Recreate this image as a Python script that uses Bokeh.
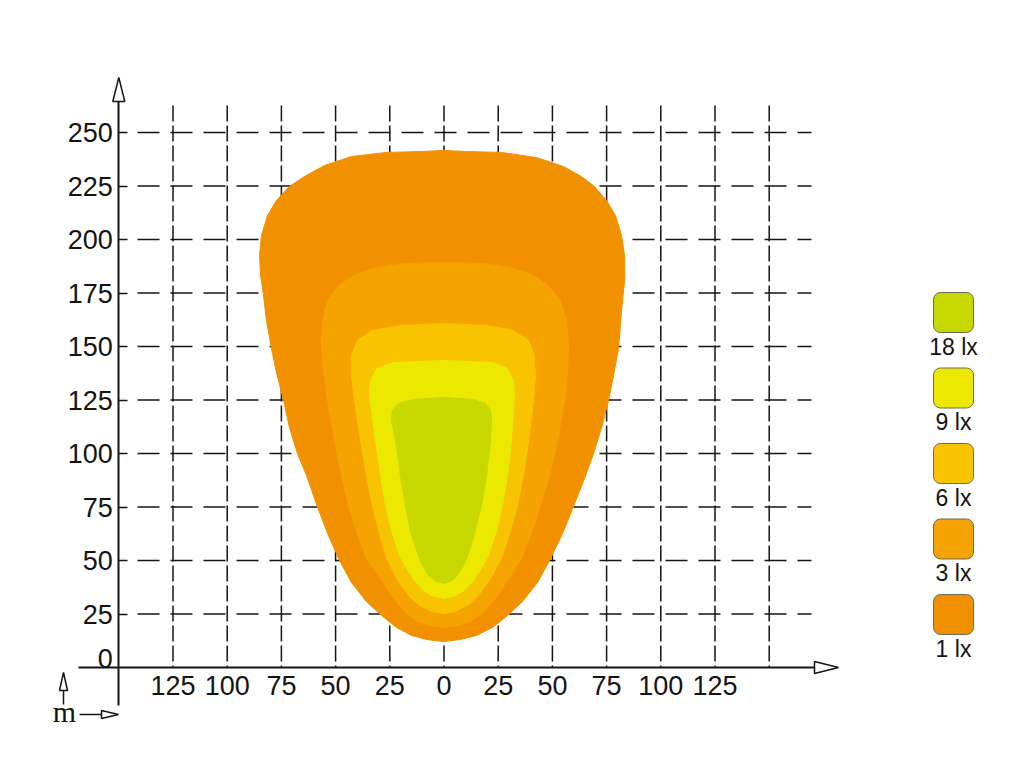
from bokeh.plotting import figure
from bokeh.models import LinearAxis, FixedTicker
from bokeh.core.properties import value
from bokeh.embed import file_html
from bokeh.resources import INLINE

# ---------------- data ----------------
levels = ["18 lx", "9 lx", "6 lx", "3 lx", "1 lx"]
level_colors = ["#c6d800", "#ece800", "#f8c300", "#f5a300", "#f29100"]

# isolux contours (x: lateral m, y: distance m)
x_1lx = [-0.2, -8.1, -15.0, -21.9, -28.8, -35.8, -42.7, -48.2, -53.7, -58.4, -63.4, -67.6, -71.3, -74.0,
         -77.3, -79.6, -81.9, -83.3, -84.6, -85.1, -84.2, -81.4, -77.3, -71.3, -64.4, -55.1, -42.7, -26.5,
         -10.4, -0.2, 10.4, 26.5, 42.7, 55.1, 63.4, 69.4, 75.0, 79.1, 81.9, 83.3, 83.3, 81.9, 80.5, 78.2,
         75.9, 72.7, 69.0, 64.8, 59.7, 54.7, 48.7, 43.1, 36.2, 29.3, 22.4, 15.0, 7.6]
y_1lx = [12.1, 13.1, 15.0, 18.7, 24.3, 30.8, 39.7, 50.0, 62.6, 75.2, 89.7, 100.0, 112.2, 124.8,
         137.9, 149.1, 162.2, 174.3, 183.2, 192.5, 201.9, 211.2, 218.2, 224.8, 229.4, 234.6, 238.8, 240.7,
         241.1, 241.6, 241.1, 240.7, 238.3, 234.1, 229.4, 224.8, 218.2, 211.2, 201.9, 192.5, 180.8, 166.8, 149.1, 136.5,
         124.8, 112.2, 100.0, 88.3, 75.2, 62.6, 50.0, 39.7, 30.8, 24.3, 18.7, 15.0, 13.1]

x_3lx = [-0.2, -6.7, -12.7, -17.3, -23.3, -28.8, -35.8, -40.4, -44.1, -47.3, -50.5, -53.7, -55.6, -56.5,
         -56.0, -53.7, -49.1, -41.7, -31.1, -17.3, -0.2, 17.3, 31.1, 41.3, 48.7, 53.7, 56.5, 57.4, 57.0,
         55.6, 52.4, 48.7, 44.5, 40.8, 35.8, 29.3, 23.8, 17.8, 12.7, 6.7]
y_3lx = [18.7, 19.6, 22.0, 25.2, 32.2, 40.7, 50.9, 64.0, 75.7, 89.7, 106.1, 124.8, 138.8, 150.5,
         162.2, 171.5, 178.0, 183.2, 186.9, 188.8, 189.3, 188.8, 186.9, 183.2, 178.0, 171.5, 162.2, 150.5, 138.8,
         124.8, 106.1, 89.7, 75.7, 64.0, 50.9, 40.7, 32.2, 25.2, 22.0, 19.6]

x_6lx = [-0.2, -5.8, -11.3, -16.4, -21.9, -26.5, -30.2, -33.0, -35.8, -38.5, -41.3, -42.7, -42.7, -39.9,
         -33.4, -19.6, -0.2, 19.6, 32.1, 39.0, 41.7, 42.2, 41.3, 39.0, 36.7, 33.9, 30.7, 26.5, 21.5, 15.9,
         10.8, 5.3]
y_6lx = [25.2, 26.2, 29.0, 33.6, 41.6, 50.9, 64.0, 75.7, 89.7, 106.1, 124.8, 136.5, 145.8, 152.8,
         157.5, 159.8, 160.8, 159.8, 157.5, 152.8, 145.8, 136.5, 124.8, 106.1, 89.7, 75.7, 64.0, 50.9, 41.6, 33.6,
         29.0, 26.2]

x_9lx = [-0.2, -4.8, -9.5, -13.6, -17.3, -20.5, -24.2, -27.0, -29.3, -31.6, -33.4, -34.4, -33.9, -31.1,
         -23.3, -0.2, 22.8, 29.3, 32.1, 32.5, 32.1, 31.1, 29.3, 27.0, 24.2, 20.5, 17.3, 13.6, 9.5, 4.4]
y_9lx = [32.2, 33.2, 36.0, 40.7, 46.3, 52.3, 64.0, 75.7, 89.7, 106.1, 120.1, 127.1, 134.1, 139.7,
         142.5, 143.5, 142.5, 139.7, 134.1, 127.1, 120.1, 106.1, 89.7, 75.7, 64.0, 52.3, 46.3, 40.7, 36.0, 33.2]

x_18lx = [-0.2, -3.9, -7.2, -9.9, -12.7, -15.5, -17.8, -20.1, -22.4, -24.2, -23.8, -21.0, -14.1, -0.2,
          13.6, 19.1, 21.5, 21.9, 21.5, 19.6, 17.3, 14.5, 11.8, 9.0, 6.2, 3.0]
y_18lx = [39.3, 40.2, 43.0, 47.7, 54.7, 64.0, 75.7, 89.7, 106.1, 115.4, 120.1, 123.4, 125.2, 126.2,
          125.2, 123.4, 120.1, 115.4, 106.1, 89.7, 75.7, 64.0, 54.7, 47.7, 43.0, 40.2]

x_ticks = [-125, -100, -75, -50, -25, 0, 25, 50, 75, 100, 125]
x_grid = [-125, -100, -75, -50, -25, 0, 25, 50, 75, 100, 125, 150]
y_ticks = [25, 50, 75, 100, 125, 150, 175, 200, 225, 250]
y_grid = [25, 50, 75, 100, 125, 150, 175, 200, 225, 250]
unit_label = "m"

# ---------------- layout ----------------
W, H = 1000, 750
PX0, SX = 443.5, 2.168   # px of x=0, px per metre
PY0, SY = 667.0, 2.14    # px of y=0, px per metre
FONT = "Liberation Sans"
INK = "#141414"


def dx(px):
    return px / SX


def dy(px):
    return px / SY


def fx(px):
    return (px - PX0) / SX


def fy(py):
    return (PY0 - py) / SY


p = figure(width=W, height=H, x_range=(fx(0), fx(W)), y_range=(fy(H), fy(0)),
           x_axis_type=None, y_axis_type=None, toolbar_location=None,
           output_backend="svg", min_border=0, outline_line_color=None)

y_axis_x = -150
x_axis_start, x_axis_end = fx(78), fx(814)
y_axis_start, y_axis_end = fy(705), fy(101)
grid_top = fy(105)
grid_left, grid_right = fx(137), fx(811)

# grid
p.segment(x0=x_grid, y0=[grid_top] * len(x_grid), x1=x_grid, y1=[0] * len(x_grid),
          line_color=INK, line_width=1.5, line_dash="16 4")
p.segment(x0=[grid_left] * len(y_grid), y0=y_grid, x1=[grid_right] * len(y_grid), y1=y_grid,
          line_color=INK, line_width=1.5, line_dash="22 11")

# contours, outer to inner
xs = [x_1lx, x_3lx, x_6lx, x_9lx, x_18lx]
ys = [y_1lx, y_3lx, y_6lx, y_9lx, y_18lx]
p.patches(xs=xs, ys=ys, fill_color=level_colors[::-1], line_color=level_colors[::-1],
          line_width=1, line_join="round")

# axes
xaxis = LinearAxis(fixed_location=0, ticker=FixedTicker(ticks=x_ticks),
                   major_label_overrides={t: str(abs(t)) for t in x_ticks},
                   bounds=(x_axis_start, x_axis_end))
yaxis = LinearAxis(fixed_location=y_axis_x, ticker=FixedTicker(ticks=y_ticks),
                   bounds=(y_axis_start, y_axis_end))
for ax in (xaxis, yaxis):
    ax.axis_line_width = 2
    ax.axis_line_color = INK
    ax.major_tick_out = 0
    ax.minor_tick_line_color = None
    ax.major_tick_line_color = INK
    ax.major_tick_line_width = 1.5
    ax.major_label_text_font = FONT
    ax.major_label_text_font_size = "27px"
    ax.major_label_text_color = INK
xaxis.major_tick_in = 0
xaxis.major_label_standoff = 8
yaxis.major_tick_in = 9
yaxis.major_label_standoff = 6
p.add_layout(xaxis, "below")
p.add_layout(yaxis, "left")

# y "0" label sits above the x axis
p.text(x=[y_axis_x], y=[0], text=["0"], text_align="right", text_baseline="middle",
       x_offset=-6, y_offset=-9, text_font=value(FONT), text_font_size="27px", text_color=INK)


def head(tip_x, tip_y, ux, uy, length, half):
    # ux, uy: unit direction in screen px space (x right, y up)
    bx, by = tip_x - dx(length) * ux, tip_y - dy(length) * uy
    px_, py_ = -uy, ux
    return ([tip_x, bx + dx(half) * px_, bx - dx(half) * px_],
            [tip_y, by + dy(half) * py_, by - dy(half) * py_])


ax_head = head(x_axis_end + dx(24), 0, 1, 0, 24, 6)
ay_head = head(y_axis_x, y_axis_end + dy(24), 0, 1, 24, 6)

# unit marker arrows near "m"
m_x, m_mid = fx(64), fy(711)
up_x = fx(63)
up_shaft = (fy(704), fy(690))
up_tip = fy(672)
rt_y = fy(714)
rt_shaft = (fx(79), fx(101))
rt_tip = fx(118)
p.segment(x0=[up_x, rt_shaft[0]], y0=[up_shaft[0], rt_y], x1=[up_x, rt_shaft[1]], y1=[up_shaft[1], rt_y],
          line_color=INK, line_width=1.5)
up_head = head(up_x, up_tip, 0, 1, 18, 4)
rt_head = head(rt_tip, rt_y, 1, 0, 17, 4)

p.patches(xs=[ax_head[0], ay_head[0], up_head[0], rt_head[0]],
          ys=[ax_head[1], ay_head[1], up_head[1], rt_head[1]],
          fill_color="white", line_color=INK, line_width=1.5)

p.text(x=[m_x], y=[m_mid], text=[unit_label], text_align="center", text_baseline="middle",
       text_font=value("Liberation Serif"), text_font_size="30px", text_color=INK)

# legend
leg_x = fx(953)
leg_y = [fy(312 + 75.5 * i) for i in range(len(levels))]
p.rect(x=[leg_x] * len(levels), y=leg_y, width=40, height=40, width_units="screen",
       height_units="screen", fill_color=level_colors, line_color="#6b6b52", line_width=1,
       border_radius=7)
p.text(x=[leg_x] * len(levels), y=leg_y, text=levels, y_offset=34, text_align="center",
       text_baseline="middle", text_font=value(FONT), text_font_size="23px", text_color=INK)

open("out.html", "w").write(file_html(p, INLINE))
